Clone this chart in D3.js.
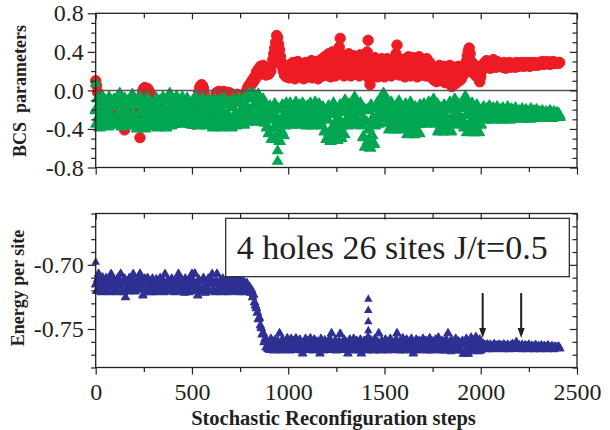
<!DOCTYPE html>
<html><head><meta charset="utf-8">
<script src="https://cdn.jsdelivr.net/npm/d3@7"></script>
<style>body{margin:0;background:#fff} svg{display:block}</style>
</head><body><svg id="c" width="610" height="430"></svg>
<script>
// sampling steps (x categories), one value every 5 steps, 0..2410
const steps = d3.range(0, 2415, 5);

const bcsRed = [
 0.10,0.05,-0.02,-0.03,-0.08,-0.18,-0.12,-0.25,-0.15,-0.22,-0.10,-0.28,-0.18,-0.13,-0.24,-0.20,-0.29,-0.16,-0.26,-0.30,
 -0.22,-0.27,-0.31,-0.20,-0.33,-0.26,-0.34,-0.18,-0.30,-0.35,-0.41,-0.28,-0.22,-0.15,-0.25,-0.19,-0.12,-0.23,-0.17,-0.26,
 -0.20,-0.28,-0.16,-0.24,-0.30,-0.36,-0.49,-0.22,-0.05,0.00,0.02,0.03,0.01,-0.04,0.02,0.00,-0.08,-0.03,-0.12,-0.18,
 -0.22,-0.15,-0.25,-0.18,-0.28,-0.12,-0.20,-0.26,-0.16,-0.23,-0.14,-0.27,-0.19,-0.24,-0.11,-0.21,-0.28,-0.17,-0.25,-0.20,
 -0.26,-0.30,-0.33,-0.34,-0.32,-0.28,-0.22,-0.16,-0.25,-0.19,-0.13,-0.24,-0.18,-0.27,-0.15,-0.22,-0.28,-0.31,-0.34,-0.33,
 -0.34,-0.33,-0.35,-0.28,-0.20,-0.14,-0.08,-0.02,0.03,0.05,0.06,0.05,0.02,-0.04,-0.10,-0.16,-0.22,-0.18,-0.25,-0.20,
 -0.15,-0.20,-0.12,-0.18,-0.08,-0.03,-0.02,-0.04,-0.01,-0.02,-0.05,-0.02,-0.03,-0.01,-0.04,-0.02,-0.03,-0.06,-0.02,-0.04,
 -0.03,-0.06,-0.10,-0.05,-0.08,-0.12,-0.07,-0.04,-0.09,-0.11,-0.06,-0.08,-0.05,-0.10,-0.07,-0.04,-0.02,0.00,0.03,0.05,
 0.04,0.08,0.06,0.11,0.09,0.14,0.12,0.19,0.16,0.22,0.18,0.25,0.17,0.21,0.26,0.18,0.23,0.16,0.24,0.20,
 0.17,0.24,0.20,0.26,0.32,0.38,0.44,0.50,0.57,0.55,0.48,0.42,0.35,0.29,0.24,0.20,0.16,0.22,0.14,0.25,
 0.19,0.13,0.27,0.21,0.15,0.29,0.24,0.12,0.18,0.26,0.30,0.16,0.22,0.14,0.27,0.20,0.12,0.25,0.29,0.17,
 0.23,0.14,0.28,0.19,0.31,0.13,0.25,0.21,0.16,0.30,0.24,0.12,0.27,0.18,0.32,0.22,0.15,0.29,0.35,0.20,
 0.16,0.30,0.38,0.24,0.14,0.34,0.40,0.20,0.28,0.15,0.36,0.26,0.18,0.45,0.54,0.38,0.22,0.33,0.15,0.27,
 0.35,0.18,0.29,0.38,0.22,0.15,0.32,0.26,0.36,0.17,0.24,0.34,0.20,0.30,0.15,0.37,0.23,0.28,0.18,0.33,
 0.25,0.16,0.40,0.52,0.12,0.06,0.20,0.32,0.27,0.15,0.34,0.22,0.29,0.14,0.31,0.24,0.18,0.33,0.26,0.20,
 0.14,0.30,0.22,0.33,0.17,0.27,0.31,0.15,0.24,0.29,0.20,0.34,0.38,0.47,0.30,0.16,0.26,0.32,0.19,0.23,
 0.28,0.14,0.33,0.22,0.18,0.35,0.26,0.15,0.30,0.21,0.34,0.17,0.27,0.31,0.14,0.24,0.35,0.19,0.29,0.16,
 0.32,0.20,0.26,0.15,0.33,0.23,0.18,0.29,0.14,0.25,0.21,0.11,0.24,0.16,0.09,0.22,0.13,0.26,0.18,0.10,
 0.20,0.14,0.25,0.08,0.18,0.23,0.11,0.16,0.26,0.09,0.04,0.19,0.13,0.24,0.07,0.21,0.15,0.25,0.10,0.18,
 0.12,0.22,0.16,0.26,0.20,0.30,0.36,0.41,0.44,0.38,0.30,0.24,0.18,0.27,0.21,0.15,0.25,0.18,0.12,0.09,
 0.14,0.20,0.26,0.23,0.29,0.25,0.31,0.24,0.27,0.30,0.23,0.28,0.26,0.32,0.25,0.29,0.24,0.30,0.27,0.25,
 0.28,0.25,0.27,0.24,0.29,0.26,0.23,0.28,0.25,0.27,0.29,0.24,0.26,0.28,0.25,0.27,0.24,0.29,0.26,0.28,
 0.25,0.27,0.29,0.26,0.28,0.25,0.27,0.29,0.26,0.28,0.27,0.25,0.29,0.27,0.28,0.26,0.29,0.27,0.28,0.26,
 0.28,0.29,0.27,0.28,0.30,0.28,0.27,0.29,0.28,0.30,0.28,0.29,0.27,0.29,0.28,0.30,0.29,0.28,0.29,0.28,
 0.29,0.28,0.29
];

const bcsGreen = [
 -0.20,-0.34,-0.08,-0.27,-0.38,-0.14,-0.30,-0.06,-0.22,-0.36,-0.11,-0.31,-0.18,-0.37,-0.07,-0.25,-0.33,-0.13,-0.29,-0.09,
 -0.35,-0.16,-0.27,-0.06,-0.33,-0.03,-0.21,-0.37,-0.12,-0.29,-0.08,-0.34,-0.19,-0.36,-0.10,-0.26,-0.32,-0.14,-0.04,-0.24,
 -0.36,-0.09,-0.28,-0.39,-0.15,-0.33,-0.07,-0.22,-0.38,-0.12,-0.30,-0.39,-0.18,-0.08,-0.34,-0.25,-0.11,-0.37,-0.20,-0.31,
 -0.14,-0.35,-0.24,-0.08,-0.38,-0.19,-0.31,-0.10,-0.37,-0.26,-0.07,-0.33,-0.16,-0.38,-0.22,-0.12,-0.30,-0.03,-0.36,-0.20,
 -0.09,-0.28,-0.34,-0.15,-0.06,-0.24,-0.33,-0.11,-0.30,-0.19,-0.07,-0.34,-0.25,-0.13,-0.32,-0.08,-0.21,-0.34,-0.16,-0.27,
 -0.35,-0.10,-0.23,-0.33,-0.07,-0.29,-0.17,-0.36,-0.12,-0.26,-0.34,-0.08,-0.20,-0.31,-0.14,-0.36,-0.24,-0.09,-0.30,-0.18,
 -0.33,-0.12,-0.38,-0.22,-0.09,-0.30,-0.37,-0.16,-0.26,-0.10,-0.38,-0.20,-0.33,-0.08,-0.28,-0.37,-0.14,-0.24,-0.36,-0.11,
 -0.29,-0.38,-0.17,-0.09,-0.32,-0.24,-0.36,-0.12,-0.27,-0.08,-0.34,-0.20,-0.30,-0.10,-0.35,-0.15,-0.25,-0.05,-0.32,-0.03,
 -0.20,-0.31,-0.08,-0.26,-0.03,-0.16,-0.32,-0.11,-0.24,-0.04,-0.29,-0.14,-0.32,-0.19,-0.09,-0.27,-0.33,-0.15,-0.38,-0.22,
 -0.44,-0.16,-0.30,-0.50,-0.22,-0.39,-0.14,-0.48,-0.27,-0.35,-0.19,-0.52,-0.31,-0.42,-0.15,-0.46,-0.25,-0.36,-0.13,-0.30,
 -0.34,-0.21,-0.13,-0.29,-0.35,-0.17,-0.25,-0.33,-0.12,-0.27,-0.20,-0.35,-0.15,-0.30,-0.23,-0.13,-0.34,-0.19,-0.28,-0.36,
 -0.16,-0.26,-0.34,-0.13,-0.22,-0.36,-0.18,-0.30,-0.12,-0.27,-0.35,-0.20,-0.14,-0.32,-0.24,-0.36,-0.17,-0.29,-0.42,-0.21,
 -0.50,-0.30,-0.16,-0.44,-0.52,-0.24,-0.38,-0.13,-0.47,-0.33,-0.20,-0.51,-0.28,-0.41,-0.15,-0.49,-0.36,-0.22,-0.45,-0.10,
 -0.31,-0.20,-0.36,-0.14,-0.27,-0.34,-0.18,-0.30,-0.11,-0.07,-0.25,-0.35,-0.16,-0.31,-0.22,-0.13,-0.36,-0.28,-0.48,-0.19,
 -0.58,-0.32,-0.20,-0.52,-0.40,-0.59,-0.15,-0.46,-0.28,-0.55,-0.36,-0.18,-0.30,-0.12,-0.34,-0.22,-0.08,-0.28,-0.16,-0.03,
 -0.05,-0.24,-0.14,-0.33,-0.20,-0.40,-0.28,-0.12,-0.37,-0.22,-0.31,-0.40,-0.16,-0.27,-0.35,-0.11,-0.40,-0.25,-0.18,-0.33,
 -0.22,-0.36,-0.14,-0.29,-0.45,-0.20,-0.38,-0.12,-0.43,-0.26,-0.33,-0.45,-0.17,-0.40,-0.24,-0.30,-0.44,-0.15,-0.34,-0.21,
 -0.30,-0.14,-0.25,-0.34,-0.18,-0.28,-0.12,-0.33,-0.22,-0.16,-0.31,-0.09,-0.27,-0.20,-0.34,-0.14,-0.42,-0.24,-0.38,-0.18,
 -0.32,-0.42,-0.15,-0.37,-0.26,-0.41,-0.19,-0.34,-0.12,-0.42,-0.28,-0.33,-0.16,-0.09,-0.30,-0.22,-0.35,-0.14,-0.27,-0.33,
 -0.18,-0.30,-0.12,-0.38,-0.06,-0.25,-0.43,-0.16,-0.35,-0.22,-0.42,-0.13,-0.31,-0.43,-0.20,-0.37,-0.15,-0.28,-0.43,-0.24,
 -0.35,-0.20,-0.28,-0.17,-0.30,-0.23,-0.19,-0.29,-0.25,-0.16,-0.27,-0.21,-0.30,-0.18,-0.26,-0.22,-0.29,-0.17,-0.24,-0.28,
 -0.20,-0.26,-0.30,-0.18,-0.24,-0.28,-0.21,-0.29,-0.17,-0.25,-0.30,-0.22,-0.19,-0.27,-0.24,-0.29,-0.18,-0.26,-0.22,-0.28,
 -0.21,-0.27,-0.24,-0.19,-0.29,-0.23,-0.26,-0.20,-0.28,-0.22,-0.25,-0.29,-0.19,-0.24,-0.27,-0.21,-0.28,-0.23,-0.20,-0.26,
 -0.28,-0.22,-0.25,-0.27,-0.21,-0.26,-0.24,-0.28,-0.22,-0.25,-0.27,-0.23,-0.21,-0.26,-0.28,-0.24,-0.22,-0.27,-0.25,-0.23,
 -0.26,-0.24,-0.27
];
const greenExtraSteps = [0, 945, 945];
const greenExtraValues = [0.08, -0.62, -0.73];

const energy = [
 -0.7150,-0.7200,-0.7110,-0.7068,-0.7180,-0.7130,-0.7210,-0.7095,-0.7165,-0.7120,-0.7205,-0.7100,-0.7175,-0.7140,-0.7210,-0.7105,-0.7070,-0.7160,-0.7195,-0.7115,
 -0.7185,-0.7135,-0.7210,-0.7100,-0.7160,-0.7120,-0.7068,-0.7190,-0.7140,-0.7210,-0.7105,-0.7250,-0.7170,-0.7125,-0.7205,-0.7100,-0.7155,-0.7195,-0.7110,-0.7070,
 -0.7165,-0.7205,-0.7120,-0.7180,-0.7100,-0.7145,-0.7068,-0.7190,-0.7130,-0.7235,-0.7175,-0.7105,-0.7210,-0.7140,-0.7100,-0.7185,-0.7125,-0.7210,-0.7160,-0.7105,
 -0.7195,-0.7130,-0.7210,-0.7110,-0.7170,-0.7145,-0.7205,-0.7100,-0.7160,-0.7195,-0.7120,-0.7210,-0.7070,-0.7150,-0.7185,-0.7115,-0.7205,-0.7135,-0.7170,-0.7105,
 -0.7190,-0.7125,-0.7210,-0.7140,-0.7175,-0.7100,-0.7068,-0.7160,-0.7205,-0.7115,-0.7185,-0.7130,-0.7215,-0.7105,-0.7165,-0.7195,-0.7120,-0.7210,-0.7145,-0.7100,
 -0.7068,-0.7180,-0.7130,-0.7065,-0.7200,-0.7150,-0.7235,-0.7110,-0.7175,-0.7205,-0.7125,-0.7190,-0.7100,-0.7160,-0.7215,-0.7135,-0.7180,-0.7105,-0.7200,-0.7145,
 -0.7110,-0.7070,-0.7195,-0.7140,-0.7210,-0.7120,-0.7068,-0.7175,-0.7205,-0.7125,-0.7160,-0.7210,-0.7105,-0.7185,-0.7140,-0.7200,-0.7115,-0.7170,-0.7210,-0.7130,
 -0.7180,-0.7115,-0.7205,-0.7145,-0.7120,-0.7195,-0.7160,-0.7110,-0.7210,-0.7135,-0.7175,-0.7120,-0.7200,-0.7150,-0.7130,-0.7210,-0.7160,-0.7140,-0.7195,-0.7170,
 -0.7170,-0.7215,-0.7195,-0.7250,-0.7230,-0.7290,-0.7315,-0.7335,-0.7370,-0.7420,-0.7410,-0.7470,-0.7490,-0.7540,-0.7530,-0.7600,-0.7575,-0.7640,-0.7590,-0.7655,
 -0.7610,-0.7660,-0.7575,-0.7640,-0.7600,-0.7665,-0.7585,-0.7625,-0.7660,-0.7590,-0.7645,-0.7531,-0.7615,-0.7665,-0.7580,-0.7635,-0.7660,-0.7595,-0.7650,-0.7570,
 -0.7640,-0.7600,-0.7665,-0.7575,-0.7625,-0.7655,-0.7590,-0.7640,-0.7570,-0.7660,-0.7610,-0.7645,-0.7580,-0.7630,-0.7665,-0.7687,-0.7600,-0.7650,-0.7575,-0.7620,
 -0.7660,-0.7590,-0.7640,-0.7570,-0.7655,-0.7610,-0.7665,-0.7580,-0.7630,-0.7650,-0.7595,-0.7660,-0.7620,-0.7687,-0.7575,-0.7640,-0.7600,-0.7665,-0.7585,-0.7630,
 -0.7660,-0.7600,-0.7645,-0.7575,-0.7620,-0.7531,-0.7660,-0.7610,-0.7650,-0.7585,-0.7665,-0.7620,-0.7640,-0.7595,-0.7535,-0.7660,-0.7615,-0.7650,-0.7580,-0.7640,
 -0.7600,-0.7660,-0.7687,-0.7620,-0.7580,-0.7650,-0.7600,-0.7665,-0.7575,-0.7635,-0.7660,-0.7590,-0.7645,-0.7610,-0.7665,-0.7580,-0.7687,-0.7625,-0.7655,-0.7590,
 -0.7645,-0.7600,-0.7665,-0.7560,-0.7620,-0.7650,-0.7585,-0.7640,-0.7600,-0.7665,-0.7575,-0.7630,-0.7660,-0.7600,-0.7531,-0.7640,-0.7665,-0.7590,-0.7645,-0.7610,
 -0.7660,-0.7580,-0.7640,-0.7600,-0.7665,-0.7620,-0.7575,-0.7650,-0.7600,-0.7660,-0.7615,-0.7645,-0.7580,-0.7531,-0.7635,-0.7665,-0.7595,-0.7650,-0.7610,-0.7570,
 -0.7650,-0.7600,-0.7665,-0.7580,-0.7630,-0.7660,-0.7595,-0.7645,-0.7575,-0.7635,-0.7687,-0.7610,-0.7650,-0.7580,-0.7665,-0.7620,-0.7590,-0.7655,-0.7600,-0.7640,
 -0.7575,-0.7660,-0.7620,-0.7590,-0.7665,-0.7600,-0.7645,-0.7570,-0.7630,-0.7665,-0.7595,-0.7650,-0.7610,-0.7580,-0.7660,-0.7625,-0.7565,-0.7650,-0.7600,-0.7665,
 -0.7590,-0.7640,-0.7600,-0.7665,-0.7580,-0.7620,-0.7531,-0.7655,-0.7600,-0.7670,-0.7585,-0.7640,-0.7610,-0.7665,-0.7575,-0.7630,-0.7660,-0.7595,-0.7645,-0.7610,
 -0.7665,-0.7590,-0.7690,-0.7620,-0.7688,-0.7575,-0.7650,-0.7690,-0.7600,-0.7660,-0.7565,-0.7630,-0.7670,-0.7585,-0.7645,-0.7560,-0.7660,-0.7610,-0.7670,-0.7580,
 -0.7665,-0.7620,-0.7650,-0.7615,-0.7645,-0.7625,-0.7655,-0.7618,-0.7640,-0.7650,-0.7620,-0.7645,-0.7630,-0.7655,-0.7615,-0.7640,-0.7650,-0.7625,-0.7645,-0.7620,
 -0.7650,-0.7625,-0.7640,-0.7655,-0.7618,-0.7645,-0.7630,-0.7650,-0.7620,-0.7640,-0.7655,-0.7625,-0.7645,-0.7615,-0.7650,-0.7630,-0.7645,-0.7600,-0.7640,-0.7650,
 -0.7625,-0.7645,-0.7655,-0.7620,-0.7640,-0.7650,-0.7625,-0.7645,-0.7630,-0.7655,-0.7620,-0.7640,-0.7650,-0.7628,-0.7645,-0.7635,-0.7655,-0.7622,-0.7640,-0.7650,
 -0.7630,-0.7645,-0.7655,-0.7625,-0.7640,-0.7650,-0.7630,-0.7645,-0.7635,-0.7655,-0.7625,-0.7645,-0.7640,-0.7650,-0.7630,-0.7645,-0.7655,-0.7635,-0.7645,-0.7640,
 -0.7645,-0.7635,-0.7648
];
const energyExtraSteps = [0, 1416, 1416, 1416, 1416];
const energyExtraValues = [-0.6975, -0.7265, -0.7352, -0.7440, -0.7510];

const arrowSteps = [2010, 2210];
const arrowRange = [-0.722, -0.757];

const xTicksMajor = [0, 500, 1000, 1500, 2000, 2500];
const xTicksMinor = [250, 750, 1250, 1750, 2250];
const bcsTicksMajor = [-0.8, -0.4, 0, 0.4, 0.8];
const bcsTicksMinor = [-0.7,-0.6,-0.5,-0.3,-0.2,-0.1,0.1,0.2,0.3,0.5,0.6,0.7];
const eTicksMajor = [-0.75, -0.70];
const eTicksMinor = [-0.78,-0.77,-0.76,-0.74,-0.73,-0.72,-0.71,-0.69,-0.68,-0.67,-0.66];

const labelText = "4 holes 26 sites J/t=0.5";
const titleTop = "BCS\u00a0\u00a0parameters";
const titleBottom = "Energy per site";
const titleX = "Stochastic Reconfiguration steps";

// ---------- drawing ----------
const RED = "#ED1C24", GREEN = "#00A651", BLUE = "#2E3192", INK = "#231F20";
const SERIF = "'Liberation Serif','Times New Roman',Times,serif";
const svg = d3.select("#c");
svg.append("rect").attr("width", 610).attr("height", 430).attr("fill", "#fff");

const x = d3.scaleLinear().domain([0, 2500]).range([95.7, 577]);
const yTop = d3.scaleLinear().domain([-0.8, 0.8]).range([167.5, 13.3]);
const yBot = d3.scaleLinear().domain([-0.78, -0.66]).range([367.5, 213.5]);

const tri = (w, h) => `M0,${-h*0.6}L${w/2},${h*0.4}L${-w/2},${h*0.4}Z`;
const pairs = (s, v) => s.map((d, i) => [d, v[i]]).filter(d => d[1] !== undefined);

// top panel
const gTop = svg.append("g");
gTop.append("g").selectAll("circle").data(pairs(steps, bcsRed))
  .join("circle").attr("cx", d => x(d[0])).attr("cy", d => yTop(d[1])).attr("r", 5.2)
  .attr("fill", RED).attr("stroke", RED).attr("stroke-width", 1);
gTop.append("g").selectAll("path").data(pairs(steps, bcsGreen)).join("path")
  .attr("d", tri(11, 9.5)).attr("transform", d => `translate(${x(d[0])},${yTop(d[1])})`)
  .attr("fill", GREEN).attr("stroke", GREEN).attr("stroke-width", 1.4).attr("stroke-linejoin", "round");
gTop.append("g").selectAll("path").data(pairs(greenExtraSteps, greenExtraValues)).join("path")
  .attr("d", tri(12, 10)).attr("transform", d => `translate(${x(d[0])},${yTop(d[1])})`).attr("fill", GREEN);
gTop.append("line").attr("x1", x(0)).attr("x2", x(2500)).attr("y1", yTop(0)).attr("y2", yTop(0))
  .attr("stroke", "#555").attr("stroke-width", 1.5);

// bottom panel
const gBot = svg.append("g");
gBot.append("g").selectAll("path").data(pairs(steps, energy)).join("path")
  .attr("d", tri(8, 7)).attr("transform", d => `translate(${x(d[0])},${yBot(d[1])})`)
  .attr("fill", BLUE).attr("stroke", BLUE).attr("stroke-width", 1.3).attr("stroke-linejoin", "round");
gBot.append("g").selectAll("path").data(pairs(energyExtraSteps, energyExtraValues)).join("path")
  .attr("d", tri(8.5, 7.5)).attr("transform", d => `translate(${x(d[0])},${yBot(d[1])})`).attr("fill", BLUE);

arrowSteps.forEach(s => {
  const ax = x(s), y1 = yBot(arrowRange[0]), y2 = yBot(arrowRange[1]);
  gBot.append("line").attr("x1", ax).attr("x2", ax).attr("y1", y1).attr("y2", y2 - 8)
    .attr("stroke", INK).attr("stroke-width", 2);
  gBot.append("path").attr("d", `M${ax-3.5},${y2-10}L${ax+3.5},${y2-10}L${ax},${y2}Z`).attr("fill", INK);
});

// label box
gBot.append("rect").attr("x", 225.7).attr("y", 218.3).attr("width", 343.6).attr("height", 58.4)
  .attr("fill", "#fff").attr("stroke", INK).attr("stroke-width", 1.2);
gBot.append("text").attr("x", 236.7).attr("y", 259.3).attr("font-family", SERIF).attr("font-size", 34)
  .attr("fill", INK).text(labelText);

// axes
function styleAxis(g) {
  g.attr("font-family", SERIF);
  g.select(".domain").remove();
  g.selectAll("line").attr("stroke", INK).attr("stroke-width", 1.2);
  g.selectAll("text").attr("font-family", SERIF).attr("font-size", 24).attr("fill", INK);
}
function panelAxes(y, x0, x1, yy0, yy1, yMaj, yMin, yFmt, withXLabels) {
  const g = svg.append("g");
  g.append("g").attr("transform", `translate(${x0},0)`)
    .call(d3.axisLeft(y).tickValues(yMaj).tickSizeInner(8).tickSizeOuter(0).tickPadding(4).tickFormat(yFmt)).call(styleAxis);
  g.append("g").attr("transform", `translate(${x0},0)`)
    .call(d3.axisLeft(y).tickValues(yMin).tickSizeInner(4.5).tickSizeOuter(0).tickFormat("")).call(styleAxis);
  g.append("g").attr("transform", `translate(${x1},0)`)
    .call(d3.axisRight(y).tickValues(yMaj).tickSizeInner(-7).tickSizeOuter(0).tickFormat("")).call(styleAxis);
  g.append("g").attr("transform", `translate(${x1},0)`)
    .call(d3.axisRight(y).tickValues(yMin).tickSizeInner(-4.5).tickSizeOuter(0).tickFormat("")).call(styleAxis);
  g.append("g").attr("transform", `translate(0,${yy1})`)
    .call(d3.axisTop(x).tickValues(xTicksMajor).tickSizeInner(-6).tickSizeOuter(0).tickFormat("")).call(styleAxis);
  g.append("g").attr("transform", `translate(0,${yy1})`)
    .call(d3.axisTop(x).tickValues(xTicksMinor).tickSizeInner(-5).tickSizeOuter(0).tickFormat("")).call(styleAxis);
  g.append("g").attr("transform", `translate(0,${yy0})`)
    .call(d3.axisBottom(x).tickValues(xTicksMajor).tickSizeInner(7).tickSizeOuter(0).tickPadding(8.5)
      .tickFormat(withXLabels ? d3.format("d") : "")).call(styleAxis);
  g.append("g").attr("transform", `translate(0,${yy0})`)
    .call(d3.axisBottom(x).tickValues(xTicksMinor).tickSizeInner(4.5).tickSizeOuter(0).tickFormat("")).call(styleAxis);
  g.append("rect").attr("x", x0).attr("y", yy1).attr("width", x1 - x0).attr("height", yy0 - yy1)
    .attr("fill", "none").attr("stroke", INK).attr("stroke-width", 1.3);
}
panelAxes(yTop, 95.7, 577, 167.5, 13.3, bcsTicksMajor, bcsTicksMinor, d => d.toFixed(1), false);
panelAxes(yBot, 95.7, 577, 367.5, 213.5, eTicksMajor, eTicksMinor, d => d.toFixed(2), true);

// titles
svg.append("text").attr("transform", "translate(25.5,91) rotate(-90)").attr("text-anchor", "middle")
  .attr("font-family", SERIF).attr("font-weight", "bold").attr("font-size", 18).attr("fill", INK).text(titleTop);
svg.append("text").attr("transform", "translate(24,288) rotate(-90)").attr("text-anchor", "middle")
  .attr("font-family", SERIF).attr("font-weight", "bold").attr("font-size", 18).attr("fill", INK).text(titleBottom);
svg.append("text").attr("x", 333.5).attr("y", 425).attr("text-anchor", "middle")
  .attr("font-family", SERIF).attr("font-weight", "bold").attr("font-size", 20.5).attr("fill", INK).text(titleX);
</script></body></html>
